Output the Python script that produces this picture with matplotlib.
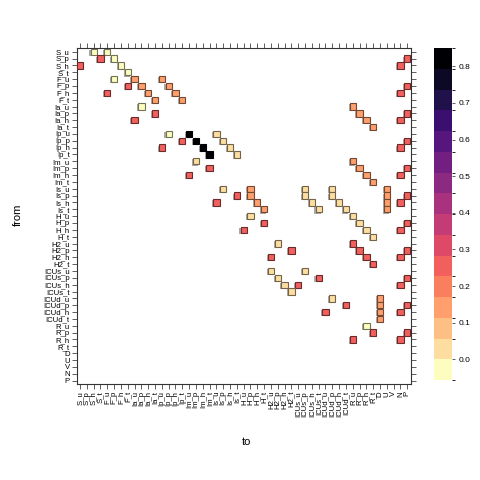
import matplotlib
matplotlib.use('Agg')
import matplotlib.pyplot as plt
import numpy as np
from matplotlib.patches import Rectangle
from matplotlib.colors import ListedColormap, BoundaryNorm
from matplotlib.cm import ScalarMappable

plt.rcParams['font.family'] = ['Liberation Sans', 'DejaVu Sans']

# state names (rows = from, columns = to)
compartments = ['S', 'F', 'Ia', 'Ip', 'Im', 'Is', 'H', 'H2', 'ICUs', 'ICUd', 'R']
strata = ['u', 'p', 'h', 't']
extra_states = ['D', 'U', 'V', 'N', 'P']
states = [c + '_' + s for c in compartments for s in strata] + extra_states

# transitions: from index, to index, rate
from_idx = [0, 0,
            1, 1, 1,
            2, 2, 2,
            3,
            4, 4, 4,
            5, 5, 5, 5,
            6, 6, 6, 6,
            7, 7,
            8, 8,
            9, 9, 9,
            10, 10, 10,
            11,
            12, 12, 12,
            13, 13, 13, 13,
            14, 14, 14, 14,
            15, 15,
            16, 16,
            17, 17, 17,
            18, 18, 18,
            19,
            20, 20, 20, 20, 20,
            21, 21, 21, 21, 21, 21,
            22, 22, 22, 22, 22, 22,
            23, 23, 23, 23,
            24, 24,
            25, 25, 25,
            26, 26, 26,
            27,
            28, 28,
            29, 29, 29,
            30, 30, 30,
            31,
            32, 32,
            33, 33, 33,
            34, 34, 34,
            35,
            36, 36,
            37, 37, 37,
            38, 38, 38,
            39,
            40,
            41, 41,
            42, 42]
to_idx = [2, 4,
          3, 5, 48,
          0, 6, 47,
          7,
          5, 8, 12,
          7, 9, 13, 48,
          4, 10, 14, 47,
          11, 15,
          9, 40,
          11, 41, 48,
          8, 42, 47,
          43,
          13, 16, 20,
          15, 17, 21, 48,
          12, 18, 22, 47,
          19, 23,
          17, 40,
          19, 41, 48,
          16, 42, 47,
          43,
          21, 25, 33, 37, 45,
          23, 25, 33, 37, 45, 48,
          20, 26, 34, 38, 45, 47,
          27, 35, 39, 45,
          25, 40,
          27, 41, 48,
          24, 42, 47,
          43,
          29, 40,
          31, 41, 48,
          28, 42, 47,
          43,
          28, 33,
          29, 35, 48,
          30, 32, 47,
          31,
          37, 44,
          39, 44, 48,
          36, 44, 47,
          44,
          42,
          43, 48,
          40, 47]
rates = [-0.02, -0.02,
         0.25, -0.02, 0.25,
         0.25, -0.02, 0.25,
         -0.02,
         -0.02, 0.14, 0.14,
         0.25, 0.14, 0.14, 0.25,
         0.25, 0.14, 0.14, 0.25,
         0.14, 0.14,
         -0.02, 0.14,
         0.25, 0.14, 0.25,
         0.25, 0.14, 0.25,
         0.14,
         -0.02, 0.83, 0.03,
         0.25, 0.83, 0.03, 0.25,
         0.25, 0.83, 0.03, 0.25,
         0.83, 0.03,
         0.03, 0.14,
         0.25, 0.14, 0.25,
         0.25, 0.14, 0.25,
         0.14,
         0.03, 0.14, 0.03, 0.03, 0.14,
         0.25, 0.14, 0.03, 0.03, 0.14, 0.25,
         0.25, 0.14, 0.03, 0.03, 0.14, 0.25,
         0.14, 0.03, 0.03, 0.14,
         0.03, 0.03,
         0.25, 0.03, 0.25,
         0.25, 0.03, 0.25,
         0.03,
         0.03, 0.25,
         0.25, 0.25, 0.25,
         0.25, 0.25, 0.25,
         0.25,
         0.03, 0.03,
         0.03, 0.25, 0.25,
         0.03, 0.25, 0.25,
         0.03,
         0.03, 0.14,
         0.25, 0.14, 0.25,
         0.25, 0.14, 0.25,
         0.14,
         -0.02,
         0.25, 0.25,
         0.25, 0.25]

color_ticks = [0.0, 0.1, 0.2, 0.3, 0.4, 0.5, 0.6, 0.7, 0.8]

# binned magma palette like the lattice key
bounds = [-0.045] + list(np.linspace(0, 0.85, 16))
cmap = ListedColormap(plt.get_cmap('magma_r')(np.linspace(0, 1, 16)))
norm = BoundaryNorm(bounds, cmap.N)

n = len(states)
fig = plt.figure(figsize=(4.8, 4.8), dpi=100)
ax = fig.add_axes([0.1596, 0.2, 0.696, 0.6994])

sz = 0.92
for r, c, v in zip(from_idx, to_idx, rates):
    fc = np.array(cmap(norm(v)))
    ec = fc[:3] * 0.45
    ax.add_patch(Rectangle((c - sz / 2 - 0.16, r - sz / 2 + 0.16), sz, sz,
                           facecolor='#a8a8a8', edgecolor='none', zorder=2))
    ax.add_patch(Rectangle((c - sz / 2, r - sz / 2), sz, sz,
                           facecolor=fc, edgecolor=ec, linewidth=0.8, zorder=3))

ax.set_xlim(-0.5, n - 0.5)
ax.set_ylim(n - 0.5, -0.5)
ax.set_xticks(range(n))
ax.set_xticklabels(states, rotation=90, fontsize=5.6)
ax.set_yticks(range(n))
ax.set_yticklabels(states, fontsize=5.6)
ax.tick_params(top=True, right=True, direction='out', length=3.5, width=0.6,
               color='#444444', pad=1.5)
for sp in ax.spines.values():
    sp.set_linewidth(0.8)
    sp.set_color('#333333')

fig.text(246 / 480, 1 - 442 / 480, 'to', ha='center', va='center', fontsize=8)
fig.text(18 / 480, 1 - 215 / 480, 'from', ha='center', va='center',
         rotation=90, fontsize=8)

# colour key
cax = fig.add_axes([0.905, 0.2083, 0.0375, 0.6917])
sm = ScalarMappable(norm=norm, cmap=cmap)
cb = fig.colorbar(sm, cax=cax, boundaries=bounds, ticks=color_ticks)
cb.outline.set_visible(False)
cb.ax.set_yticklabels([f'{t:.1f}' for t in color_ticks])
cb.ax.tick_params(labelsize=6, length=2.5, width=0.6, color='#444444', pad=2)

fig.savefig('out.png', dpi=100)
